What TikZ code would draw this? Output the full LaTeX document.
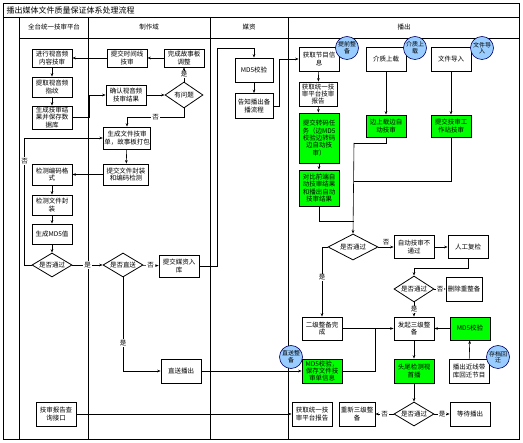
\documentclass[tikz,border=0pt]{standalone}
\usepackage{fontspec}
\setmainfont{Noto Sans CJK SC}
\usetikzlibrary{
    arrows.meta,     % For arrow tip styles like Stealth
    shapes.geometric % For the diamond decisions
}

\definecolor{checkgreen}{RGB}{0,255,0}
\definecolor{tagblue}{RGB}{153,204,255}

\begin{document}
\begin{tikzpicture}[x=1pt, y=-1pt,
    box/.style={rectangle, draw, line width=0.8pt, minimum width=40pt, minimum height=23pt, inner sep=1pt, font=\fontsize{6.5}{7.3}\selectfont, align=center},
    check/.style={box, fill=checkgreen},
    decision/.style={diamond, draw, line width=0.8pt, minimum width=40pt, minimum height=25pt, inner sep=0pt, aspect=1.6, font=\fontsize{6.5}{7.3}\selectfont},
    tag/.style={circle, draw=blue!40!black, line width=0.6pt, fill=tagblue, minimum size=23pt, inner sep=0pt, font=\fontsize{6}{6.6}\selectfont, align=center},
    arrow/.style={-{Stealth[length=3.5pt, width=2.6pt]}, line width=0.6pt},
    link/.style={line width=0.6pt},
    lane/.style={line width=0.7pt},
    yesno/.style={font=\fontsize{6.5}{7}\selectfont, inner sep=1pt, fill=white},
    title/.style={font=\fontsize{8}{9}\selectfont, anchor=west},
    header/.style={font=\fontsize{6.5}{7}\selectfont}
]
    \useasboundingbox (0,0) rectangle (523,443);

    % Frame and swim lanes
    \draw[lane] (3,3) rectangle (519,439);
    \draw[lane] (3,17) -- (519,17);
    \draw[lane] (19,38) -- (519,38);
    \draw[lane] (19,17) -- (19,439);
    \draw[lane] (88,17) -- (88,439);
    \draw[lane] (210,17) -- (210,439);
    \draw[lane] (288,17) -- (288,439);

    % Title and lane headers
    \node[title] (ttl) at (3,10) {播出媒体文件质量保证体系处理流程};
    \node[header] (h1) at (54,27) {全台统一技审平台};
    \node[header] (h2) at (149,27) {制作域};
    \node[header] (h3) at (249,27) {媒资};
    \node[header] (h4) at (404,27) {播出};

    % Lane 1: unified technical review platform
    \node[box, minimum height=18pt] (jxsh) at (52,58) {进行视音频\\内容技审};
    \node[box, minimum height=20pt] (tqzw) at (52,87) {提取视音频\\指纹};
    \node[box] (scjg) at (52,117.5) {生成技审结\\果并保存数\\据库};
    \node[box, minimum height=21pt] (jcbm) at (52,174.5) {检测编码格\\式};
    \node[box, minimum height=20pt] (jcfz) at (52,205) {检测文件封\\装};
    \node[box, minimum height=20pt] (scmd) at (52,234) {生成MD5值};
    \node[decision, minimum height=24pt] (tg1) at (52,265) {是否通过};
    \node[box, minimum height=24pt] (jscx) at (56,414) {技审报告查\\询接口};

    % Lane 2: production
    \node[box, minimum height=18pt] (tjsx) at (127,58) {提交时间线\\技审};
    \node[box, minimum height=18pt] (wcgs) at (184,58) {完成故事板\\调整};
    \node[box, minimum height=20pt] (qrjg) at (126,95) {确认视音频\\技审结果};
    \node[decision, minimum width=38pt, minimum height=26pt] (ywt) at (184,95) {有问题};
    \node[box, minimum width=47pt, minimum height=22pt] (scwj) at (127,138) {生成文件技审\\单，故事板打包};
    \node[box, minimum width=45pt, minimum height=21pt] (tjfz) at (126,174.5) {提交文件封装\\和编码检测};
    \node[decision, minimum height=24pt] (zs) at (123,265) {是否直送};
    \node[box, minimum height=22pt] (tjmz) at (179,266) {提交媒资入\\库};
    \node[box, minimum height=24pt] (zsbc) at (181,371) {直送播出};

    % Lane 3: media assets
    \node[box, minimum width=38pt, minimum height=24pt] (mdja) at (254,70) {MD5校验};
    \node[box, minimum width=38pt, minimum height=25pt] (gzbb) at (254,106) {告知播出备\\播流程};

    % Lane 4: playout
    \node[box, minimum height=24pt] (hqjm) at (319,59) {获取节目信\\息};
    \node[box, minimum height=24pt] (jzsz) at (386,59) {介质上载};
    \node[box, minimum height=24pt] (wjdr) at (451,59) {文件导入};
    \node[box, minimum width=38pt, minimum height=24pt] (hqbg) at (318,94) {获取统一技\\审平台技审\\报告};
    \node[check, minimum height=50pt] (zmrw) at (319,138) {提交转码任\\务（边MD5\\校验边转码\\边自动技\\审）};
    \node[check, minimum height=36pt] (dbjg) at (319,188) {对比前端自\\动技审结果\\和播出自动\\技审结果};
    \node[check, minimum height=22pt] (bsz) at (386,126) {边上载边自\\动技审};
    \node[check, minimum height=22pt] (gzzj) at (451,126) {提交技审工\\作站技审};
    \node[decision, minimum width=50pt, minimum height=26pt] (tg2) at (353,247) {是否通过};
    \node[box] (zdbt) at (414,247) {自动技审不\\通过};
    \node[box] (rgfj) at (468,247) {人工复检};
    \node[decision, minimum height=26pt] (tg3) at (414,289) {是否通过};
    \node[box, minimum width=36pt, minimum height=24pt] (sccz) at (464,289) {删除重整备};
    \node[box] (ejzb) at (322,328.5) {二级整备完\\成};
    \node[box] (fqsj) at (414,328.5) {发起三级整\\备};
    \node[check] (mdjb) at (470,328.5) {MD5校验};
    \node[check, minimum height=24pt] (mdbc) at (322,371) {MD5校验，\\保存文件技\\审单信息};
    \node[check, minimum height=24pt] (twjc) at (414,371) {头尾检测视\\首播};
    \node[box, minimum height=24pt] (jxhq) at (469,371) {播出近线带\\库回迁节目};
    \node[box, minimum height=24pt] (hqtb) at (312,414) {获取统一技\\审平台报告};
    \node[box, minimum width=36pt, minimum height=24pt] (cxsj) at (357,414) {重新三级整\\备};
    \node[decision, minimum height=24pt] (tg4) at (414,414) {是否通过};
    \node[box, minimum height=24pt] (ddbc) at (470,414) {等待播出};

    % Corner points of routed connectors
    \coordinate (mzup) at (217,48);
    \coordinate (bcin) at (279,59);
    \coordinate (hb1) at (354,143);
    \coordinate (hb2) at (354,181);
    \coordinate (hb3) at (354,221);
    \coordinate (sjin) at (375,328.5);

    % Production / review loop
    \draw[arrow] (wcgs) -- (tjsx);
    \draw[arrow] (tjsx) -- (jxsh);
    \draw[arrow] (jxsh) -- (tqzw);
    \draw[arrow] (tqzw) -- (scjg);
    \draw[arrow] (scjg.east) -- ++(17,0) |- (qrjg.west);
    \draw[arrow] (qrjg) -- (ywt);
    \draw[arrow] (ywt) -- node[yesno] {是} (wcgs);
    \draw[arrow] (ywt.south) -- ++(0,9) -| node[yesno, pos=0.25] {否} (scwj.north);
    \draw[arrow] (scwj) -- (tjfz);
    \draw[arrow] (tjfz) -- (jcbm);
    \draw[arrow] (jcbm) -- (jcfz);
    \draw[arrow] (jcfz) -- (scmd);
    \draw[arrow] (scmd) -- (tg1);
    \draw[arrow] (tg1.west) -- ++(-7,0) |- node[yesno, pos=0.41] {否} (scwj.west);
    \draw[arrow] (tg1) -- node[yesno] {是} (zs);
    \draw[arrow] (zs) -- node[yesno] {否} (tjmz);
    \draw[arrow] (zs.south) |- node[yesno, pos=0.35] {是} (zsbc.west);

    % Media assets
    \draw[arrow] (tjmz.east) -| (mzup) -| (mdja.north);
    \draw[arrow] (mdja) -- (gzbb);
    \draw[arrow] (gzbb.east) -| (bcin) -- (hqjm.west);

    % Playout
    \draw[arrow] (hqjm) -- (hqbg);
    \draw[arrow] (hqbg) -- (zmrw);
    \draw[arrow] (zmrw) -- (dbjg);
    \draw[arrow] (jzsz) -- (bsz);
    \draw[arrow] (wjdr) -- (gzzj);
    \draw[link] (bsz.south) |- (hb1);
    \draw[link] (gzzj.south) |- (hb2);
    \draw[link] (dbjg.south) |- (hb3);
    \draw[arrow] (hb1) -- (tg2.north);
    \draw[arrow] (tg2) -- node[yesno, above=1pt, fill=none] {否} (zdbt);
    \draw[arrow] (zdbt) -- (rgfj);
    \draw[arrow] (rgfj.south) -- ++(0,9.5) -| (tg3.north);
    \draw[arrow] (tg3) -- node[yesno] {否} (sccz);
    \draw[arrow] (tg3) -- node[yesno] {是} (fqsj);
    \draw[arrow] (tg2.west) -| node[yesno, pos=0.72] {是} (ejzb.north);
    \draw[arrow] (ejzb) -- (fqsj);
    \draw[link] (mdbc.east) -| (sjin);
    \draw[arrow] (mdjb) -- (fqsj);
    \draw[arrow] (jxhq) -- (mdjb);
    \draw[arrow] (fqsj) -- (twjc);
    \draw[arrow] (twjc) -- (tg4);
    \draw[arrow] (tg4) -- node[yesno] {否} (cxsj);
    \draw[arrow] (tg4) -- node[yesno] {是} (ddbc);
    \draw[arrow] (zsbc) -- (mdbc);
    \draw[arrow] (jscx) -- (hqtb);

    % Source tags
    \node[tag] (ttq) at (347,48) {提前整\\备};
    \node[tag] (tjz) at (415,48) {介质上\\载};
    \node[tag] (twj) at (482,48) {文件导\\入};
    \node[tag] (tzs) at (291,357) {直送整\\备};
    \node[tag] (thq) at (498,357) {存档回\\迁};
\end{tikzpicture}
\end{document}
